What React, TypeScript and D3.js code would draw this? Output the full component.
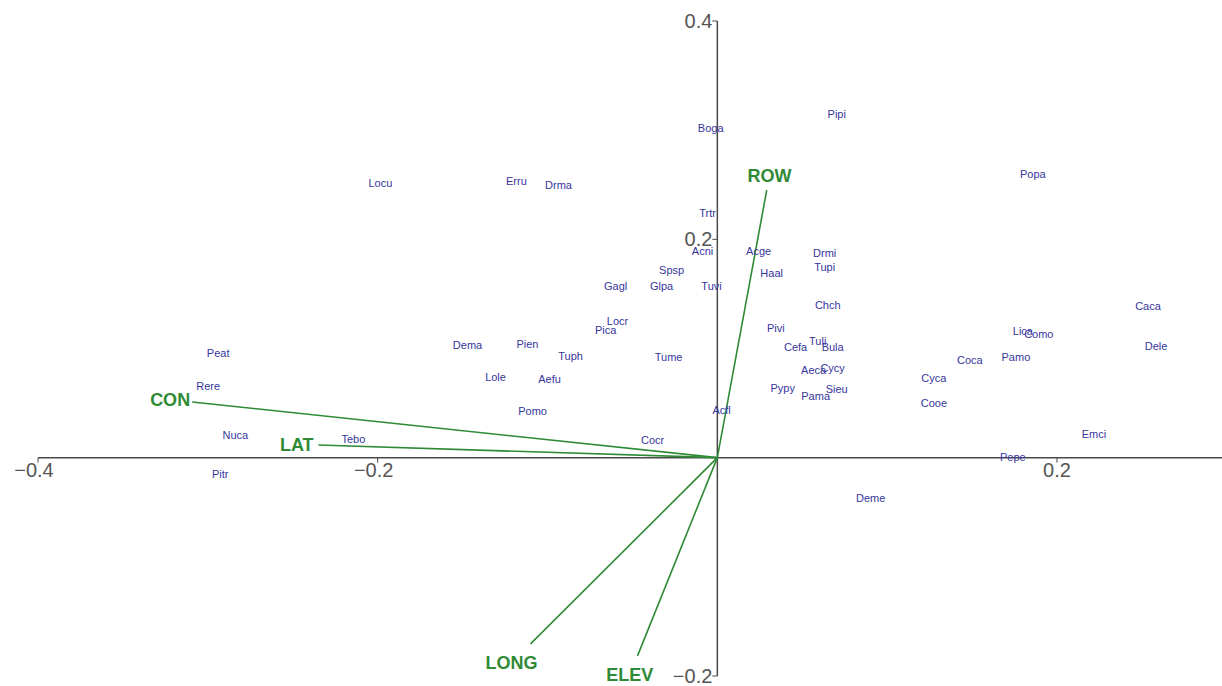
import React from "react";
import * as d3 from "d3";

// Species scores (axis 1, axis 2)
const species = ["Boga","Pipi","Locu","Erru","Drma","Popa","Trtr","Acni","Acge","Drmi","Tupi","Haal","Spsp","Gagl","Glpa","Tuvi","Chch","Caca","Locr","Pica","Pivi","Lica","Como","Tuli","Cefa","Bula","Peat","Dema","Pien","Tuph","Tume","Dele","Pamo","Coca","Aeca","Cycy","Cyca","Lole","Aefu","Rere","Pypy","Pama","Sieu","Cooe","Pomo","Acfl","Nuca","Tebo","Emci","Cocr","Pepe","Pitr","Deme"];
const speciesX = [-0.0039,0.0703,-0.1984,-0.1183,-0.0935,0.1858,-0.0057,-0.0087,0.0243,0.0632,0.0632,0.0320,-0.0269,-0.0599,-0.0328,-0.0034,0.0650,0.2536,-0.0588,-0.0658,0.0344,0.1799,0.1893,0.0591,0.0461,0.0679,-0.2939,-0.1471,-0.1118,-0.0864,-0.0287,0.2583,0.1758,0.1487,0.0567,0.0679,0.1275,-0.1306,-0.0988,-0.2998,0.0385,0.0579,0.0703,0.1275,-0.1088,0.0025,-0.2838,-0.2143,0.2217,-0.0381,0.1740,-0.2927,0.0903];
const speciesY = [0.302,0.3147,0.2516,0.2534,0.2497,0.2598,0.2241,0.1893,0.1893,0.1875,0.1746,0.1691,0.1719,0.1572,0.1572,0.1572,0.1398,0.1389,0.1252,0.1169,0.1188,0.1160,0.1133,0.1069,0.1014,0.1014,0.0959,0.1032,0.1041,0.0931,0.0922,0.1023,0.0922,0.0895,0.0803,0.0821,0.0730,0.0739,0.0721,0.0657,0.0638,0.0565,0.0629,0.0501,0.0428,0.0437,0.0208,0.0171,0.0217,0.0162,0.0006,-0.0149,-0.0369];

// Environmental vectors
const envNames = ["CON","LAT","ROW","LONG","ELEV"];
const envX = [-0.3092,-0.2349,0.0291,-0.1100,-0.0470];
const envY = [0.0510,0.0116,0.2451,-0.1706,-0.1816];

// Axis ticks
const xTicks = [-0.4,-0.2,0.2];
const yTicks = [0.4,0.2,-0.2];

const W = 1222;
const H = 686;

export default function App() {
  const x = d3.scaleLinear().domain([-0.4, 0.2]).range([38, 1057]);
  const y = d3.scaleLinear().domain([0.4, -0.2]).range([21, 676]);
  const x0 = x(0);
  const y0 = y(0);
  const fmt = (v: number) => (v < 0 ? "\u2212" : "") + Math.abs(v).toFixed(1);

  const speciesColor = "#36369c";
  const envColor = "#2f8a35";
  const axisColor = "#4a4a4a";

  const envFont = 18;
  const charW = (s: string) => s.length * envFont * 0.68;

  return (
    <div style={{ position: "absolute", left: 0, top: 0 }}>
      <svg width={W} height={H} style={{ display: "block", background: "#fff" }} fontFamily="Liberation Sans, Arial, sans-serif">
        {/* axes through origin */}
        <line x1={x(-0.4)} x2={W} y1={y0} y2={y0} stroke={axisColor} strokeWidth={1.5} />
        <line x1={x0} x2={x0} y1={y(0.4)} y2={y(-0.2)} stroke={axisColor} strokeWidth={1.5} />
        {xTicks.map((t) => (
          <g key={"xt" + t}>
            <line x1={x(t)} x2={x(t)} y1={y0} y2={y0 + 5} stroke={axisColor} strokeWidth={1} />
            <text x={x(t) - (t < 0 ? 4 : 0)} y={y0 + 19} fontSize={20} fill="#555" textAnchor="middle">{fmt(t)}</text>
          </g>
        ))}
        {yTicks.map((t) => (
          <g key={"yt" + t}>
            <line x1={x0 - 5} x2={x0} y1={y(t)} y2={y(t)} stroke={axisColor} strokeWidth={1} />
            <text x={x0 - 5} y={y(t) + 7} fontSize={20} fill="#555" textAnchor="end">{fmt(t)}</text>
          </g>
        ))}

        {/* environmental arrows */}
        {envNames.map((n, i) => {
          const ex = x(envX[i]);
          const ey = y(envY[i]);
          const dx = ex - x0;
          const dy = ey - y0;
          const len = Math.hypot(dx, dy);
          const ux = dx / len;
          const uy = dy / len;
          const w = charW(n);
          const d = Math.abs(ux) * w / 2 + Math.abs(uy) * 9 + 3;
          return (
            <g key={n}>
              <line x1={x0} y1={y0} x2={ex} y2={ey} stroke={envColor} strokeWidth={1.6} />
              <text x={ex + ux * d} y={ey + uy * d + 6.5} fontSize={envFont} fontWeight="bold" fill={envColor} textAnchor="middle">{n}</text>
            </g>
          );
        })}

        {/* species labels */}
        {species.map((s, i) => (
          <text key={s} x={x(speciesX[i])} y={y(speciesY[i]) + 4} fontSize={11} fill={speciesColor} textAnchor="middle">{s}</text>
        ))}
      </svg>
    </div>
  );
}
